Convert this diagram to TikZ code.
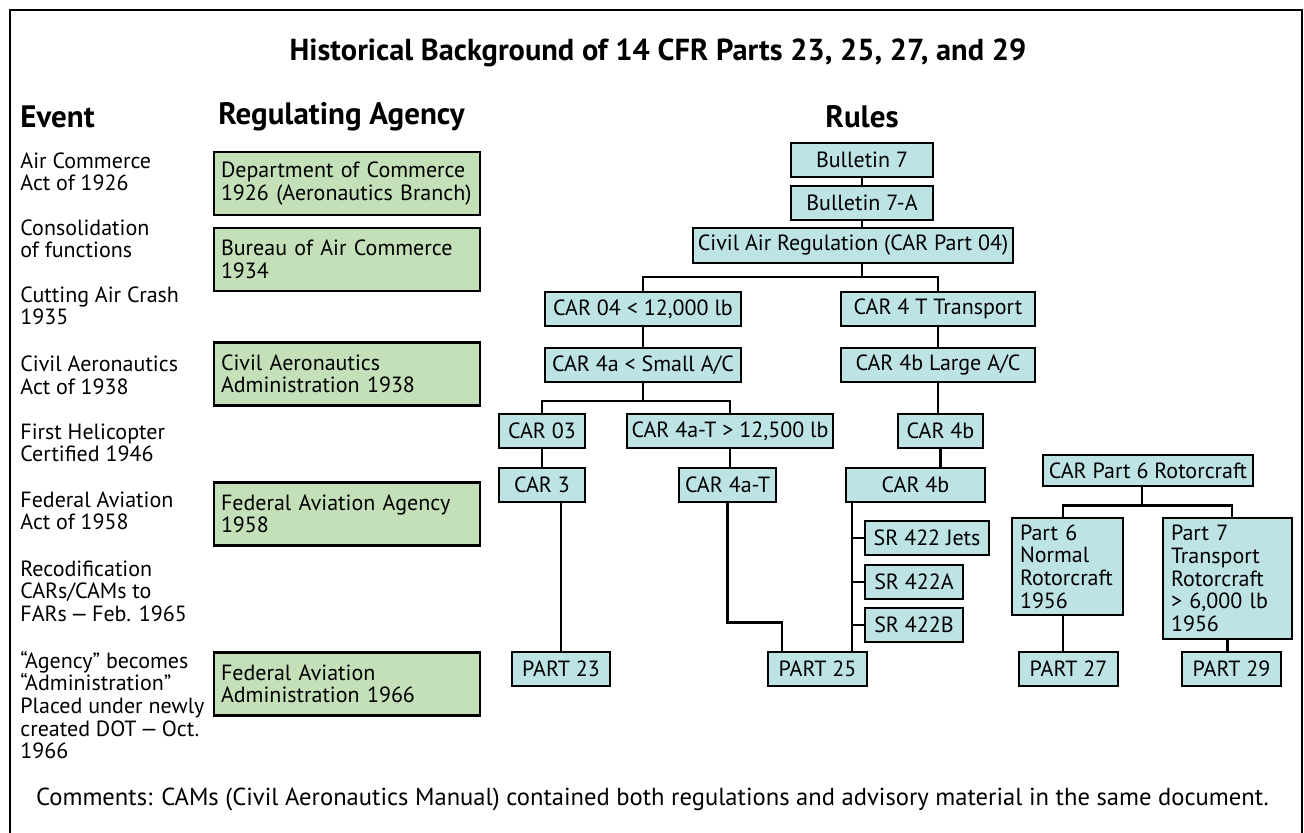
\documentclass[tikz,border=0pt]{standalone}
\usepackage{fontspec}
\setmainfont{PT Sans}
\usetikzlibrary{calc}
\definecolor{rulefill}{HTML}{BDE3E5}
\definecolor{agencyfill}{HTML}{C3E0B9}
\newcommand\bodyfont{\fontsize{11}{11.3}\selectfont}
\newcommand\headfont{\fontsize{15.5}{17}\selectfont\bfseries}
\tikzset{line width=1.2pt,
  every node/.style={font=\bodyfont,inner sep=0pt},
  frame/.style={line width=.6pt},
  head/.style={font=\headfont},
  event/.style={anchor=west,align=left},
  agency/.style={draw,fill=agencyfill,line width=1.3pt,minimum width=133pt,
    minimum height=31.5pt,inner xsep=3.5pt,text width=126pt,align=left},
  rulebox/.style={draw,fill=rulefill,line width=1.3pt,minimum height=17pt,align=center},
  tallbox/.style={draw,fill=rulefill,line width=1.3pt,inner xsep=4pt,align=left},
  link/.style={line width=1.2pt}}
\begin{document}
\begin{tikzpicture}[x=0.5pt,y=-0.5pt]
\useasboundingbox (0,0) rectangle (1304,833);
\draw[frame] (10,833) |- (1302,10) -- (1302,833);
\node[head,font=\fontsize{15.2}{17}\selectfont\bfseries] (title) at (658,53) {Historical Background of 14 CFR Parts 23, 25, 27, and 29};
\node[head,anchor=west] (hevent) at (20,117) {Event};
\node[head,anchor=west] (hagency) at (218,117) {Regulating Agency};
\node[head] (hrules) at (862,117) {Rules};
% events
\node[event] (e1) at (20,172) {Air Commerce\\Act of 1926};
\node[event] (e2) at (20,239) {Consolidation\\of functions};
\node[event] (e3) at (20,306) {Cutting Air Crash\\1935};
\node[event] (e4) at (20,375) {Civil Aeronautics\\Act of 1938};
\node[event] (e5) at (20,443) {First Helicopter\\Certified 1946};
\node[event] (e6) at (20,511) {Federal Aviation\\Act of 1958};
\node[event] (e7) at (20,591) {Recodification\\CARs/CAMs to\\FARs\,—\,Feb. 1965};
\node[event] (e8) at (20,705) {“Agency” becomes\\“Administration”\\Placed under newly\\created DOT\,—\,Oct.\\1966};
% agencies
\node[agency] (a1) at (347,183.5) {Department of Commerce\\1926 (Aeronautics Branch)};
\node[agency] (a2) at (347,259.5) {Bureau of Air Commerce\\1934};
\node[agency] (a3) at (347,374) {Civil Aeronautics\\Administration 1938};
\node[agency] (a4) at (347,514) {Federal Aviation Agency\\1958};
\node[agency] (a5) at (347,684) {Federal Aviation\\Administration 1966};
% rules
\node[rulebox,minimum width=71pt] (b7) at (862,160) {Bulletin 7};
\node[rulebox,minimum width=71pt] (b7a) at (862,203) {Bulletin 7-A};
\node[rulebox,minimum width=160pt,minimum height=17.5pt] (civ) at (853,245.5) {Civil Air Regulation (CAR Part 04)};
\node[rulebox,minimum width=98pt] (c04) at (643,309) {CAR 04 < 12,000 lb};
\node[rulebox,minimum width=97pt] (c4t) at (938,309) {CAR 4 T Transport};
\node[rulebox,minimum width=98pt] (c4a) at (643,365) {CAR 4a < Small A/C};
\node[rulebox,minimum width=97pt] (c4bl) at (938,365) {CAR 4b Large A/C};
\node[rulebox,minimum width=43pt] (c03) at (542,431) {CAR 03};
\node[rulebox,minimum width=103pt] (c4at) at (730,431) {CAR 4a-T > 12,500 lb};
\node[rulebox,minimum width=42.5pt] (c4b) at (940.5,431) {CAR 4b};
\node[rulebox,minimum width=43pt] (c3) at (542,485) {CAR 3};
\node[rulebox,minimum width=48.5pt] (c4atb) at (727.5,485) {CAR 4a-T};
\node[rulebox,minimum width=69.5pt] (c4bb) at (915.5,485) {CAR 4b};
\node[rulebox,minimum width=62pt] (srj) at (927,538) {SR 422 Jets};
\node[rulebox,minimum width=49pt] (sra) at (914,582) {SR 422A};
\node[rulebox,minimum width=49pt] (srb) at (914,625) {SR 422B};
\node[rulebox,minimum width=105pt,minimum height=15.5pt] (rot) at (1148,470.5) {CAR Part 6 Rotorcraft};
\node[tallbox,text width=47.5pt,minimum height=48.5pt] (p6) at (1067.5,566.5) {Part 6\\Normal\\Rotorcraft\\1956};
\node[tallbox,text width=56.5pt,minimum height=60.5pt] (p7) at (1227.5,578.5) {Part 7\\Transport\\Rotorcraft\\> 6,000 lb\\1956};
\node[rulebox,minimum width=49pt] (p23) at (561,669) {PART 23};
\node[rulebox,minimum width=49.5pt] (p25) at (817.5,669) {PART 25};
\node[rulebox,minimum width=49.5pt] (p27) at (1068.5,669) {PART 27};
\node[rulebox,minimum width=49.5pt] (p29) at (1231.5,669) {PART 29};
% connectors
\draw[link] (b7.south) -- (b7a.north);
\draw[link] (b7a.south) -- (b7a.south |- civ.north);
\draw[link] (civ.south -| b7a) -- ++(0,13) coordinate (split1);
\draw[link] (c04.north) |- (split1) -| (c4t.north);
\draw[link] (c04.south) -- (c4a.north);
\draw[link] (c4t.south) -- (c4bl.north);
\draw[link] (c4a.south) -- ++(0,18) coordinate (split2);
\draw[link] (c03.north) |- (split2) -| (c4at.north);
\draw[link] (c4bl.south) -- (c4bl.south |- c4b.north);
\draw[link] (c03.south) -- (c3.north);
\draw[link] (c4at.south) -- (c4at.south |- c4atb.north);
\draw[link] (c4b.south) -- (c4b.south |- c4bb.north);
\draw[link] (p23.north) -- (p23.north |- c3.south);
\draw[link] (c4atb.south) -- ++(0,119) -| ([xshift=-17.75pt]p25.north);
\coordinate (spine) at ([xshift=3.5pt]c4bb.south west);
\draw[link] (spine) -- (spine |- p25.north);
\foreach \n in {srj,sra,srb}
  \draw[link] (\n.west) -- (\n.west -| spine);
\draw[link] ([xshift=-3pt]rot.south) -- ++(0,18) coordinate (split3);
\draw[link] ([xshift=-2.25pt]p6.north) |- (split3) -| ([xshift=2.25pt]p7.north);
\draw[link] ([xshift=-2.25pt]p6.south) -- ([xshift=-2.25pt]p6.south |- p27.north);
\draw[link] (p7.south) -- (p7.south |- p29.north);
\node[font=\fontsize{12.3}{14}\selectfont] (comments) at (652.5,799) {Comments: CAMs (Civil Aeronautics Manual) contained both regulations and advisory material in the same document.};
\end{tikzpicture}
\end{document}
